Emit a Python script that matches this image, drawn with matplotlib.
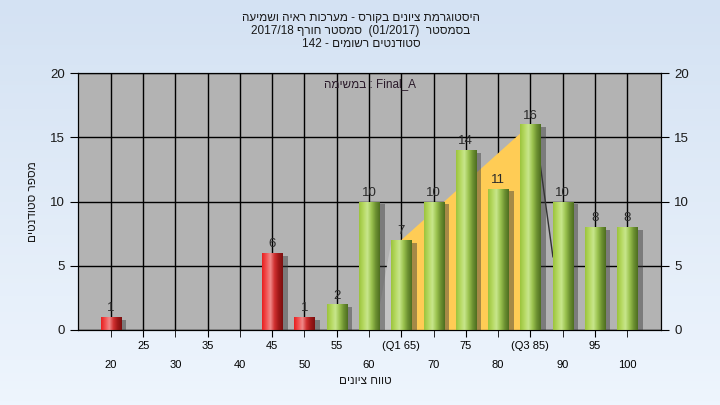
import re
import numpy as np
import matplotlib
matplotlib.use("Agg")
import matplotlib.pyplot as plt
import matplotlib.patheffects as pe
from matplotlib.colors import LinearSegmentedColormap

# grade bins and student counts
grades = [20, 25, 30, 35, 40, 45, 50, 55, 60, 65, 70, 75, 80, 85, 90, 95, 100]
counts = [1, 0, 0, 0, 0, 6, 1, 2, 10, 7, 10, 14, 11, 16, 10, 8, 8]
tick_labels = ["20", "25", "30", "35", "40", "45", "50", "55", "60", "(Q1 65)",
               "70", "75", "80", "(Q3 85)", "90", "95", "100"]
pass_grade = 55
q1_grade, q3_grade = 65, 85

title_lines = ["היסטוגרמת ציונים בקורס - מערכות ראיה ושמיעה",
               "בסמסטר  (01/2017)  סמסטר חורף 2017/18",
               "סטודנטים רשומים - 142"]
legend_text = "Final_A : במשימה"
xlabel = "טווח ציונים"
ylabel = "מספר סטודנטים"


def rtl(s):
    # crude visual ordering for Hebrew: reverse, then put LTR runs back
    r = s[::-1]
    return re.sub(r"[0-9A-Za-z_/().]+", lambda m: m.group(0)[::-1], r)


plt.rcParams['font.family'] = ['Liberation Sans', 'DejaVu Sans']

fig = plt.figure(figsize=(7.2, 4.05), dpi=100)

# background gradient
bg = fig.add_axes([0, 0, 1, 1], zorder=-10)
bg_cmap = LinearSegmentedColormap.from_list("bg", ["#D4E2F3", "#EEF5FD"])
bg.imshow(np.linspace(0, 1, 100).reshape(-1, 1), cmap=bg_cmap, aspect='auto',
          extent=(0, 1, 0, 1))
bg.axis('off')

ax = fig.add_axes([78 / 720, 1 - 330 / 405, (661 - 78) / 720, (330 - 73) / 405])
ax.set_facecolor("#B3B3B3")

x = np.arange(len(grades))
i_q1 = grades.index(q1_grade)
i_q3 = grades.index(q3_grade)

# interquartile area and decorations
ax.fill([i_q1, i_q1, i_q3, i_q3], [0, counts[i_q1], counts[i_q3], 0],
        color="#FFCC55", zorder=1.5, lw=0)
ax.fill([i_q1 - 0.8, i_q1 - 0.3, i_q1, i_q1], [0, counts[i_q1], counts[i_q1], 0],
        color="#C4C4C4", zorder=1.4, lw=0)
ax.plot([i_q3 + 0.3, i_q3 + 0.7], [13, 5.7], color="#333333", lw=1, zorder=1.6)

red_cmap = LinearSegmentedColormap.from_list(
    "r", ["#E82020", "#F25050", "#F08A8A", "#D03030", "#A01818", "#7A1010"])
green_cmap = LinearSegmentedColormap.from_list(
    "g", ["#9CC43C", "#B5D860", "#C8E68C", "#9CC450", "#6E9232", "#4E6E20"])

width = 0.62
shadow = [pe.SimplePatchShadow(offset=(4, -2), shadow_rgbFace="#383838", alpha=0.45),
          pe.Normal()]
bars = ax.bar(x, counts, width=width, color="#888888", zorder=3, path_effects=shadow)
grad = np.linspace(0, 1, 64).reshape(1, -1)
for xi, c, g, b in zip(x, counts, grades, bars):
    if c == 0:
        continue
    cm = red_cmap if g < pass_grade else green_cmap
    im = ax.imshow(grad, cmap=cm, aspect='auto', zorder=3.1,
                   extent=(xi - width / 2, xi + width / 2, 0, c))
    im.set_clip_path(b)
    ax.annotate(str(c), (xi, c), xytext=(0, 2), textcoords='offset points',
                ha='center', va='bottom', fontsize=9.5, color="#2A2A2A", zorder=4)

ax.set_xlim(-1.02, 17.05)
ax.set_ylim(0, 20)
ax.set_yticks([0, 5, 10, 15, 20])
ax.grid(True, color="black", lw=1, zorder=1)
ax.set_axisbelow(True)

odd = x[1::2]
even = x[0::2]
ax.set_xticks(odd)
ax.set_xticklabels([tick_labels[i] for i in odd])
ax.set_xticks(even, minor=True)
ax.set_xticklabels([tick_labels[i] for i in even], minor=True)
ax.tick_params(axis='x', which='major', length=5, pad=3, labelsize=8, color='black')
ax.tick_params(axis='x', which='minor', length=5, pad=16.5, labelsize=8, color='black')
ax.xaxis.grid(True, which='minor', color="black", lw=1)
ax.tick_params(axis='y', length=6, labelsize=9.5, labelcolor="#1A1A1A")

ax2 = ax.twinx()
ax2.set_ylim(0, 20)
ax2.set_yticks([0, 5, 10, 15, 20])
ax2.tick_params(axis='y', length=6, labelsize=9.5, labelcolor="#1A1A1A")
for a in (ax, ax2):
    for s in a.spines.values():
        s.set_color("black")

ax.text(0.5, 0.955, rtl(legend_text), transform=ax.transAxes, ha='center',
        va='center', fontsize=8.5, color="#2A1A2A", zorder=5)

for txt, yy in zip(title_lines, [18, 31, 44]):
    fig.text(361 / 720, 1 - yy / 405, rtl(txt), ha='center', va='center',
             fontsize=8.5, color="#1A1A1A")
fig.text(365 / 720, 1 - 381 / 405, rtl(xlabel), ha='center', va='center',
         fontsize=8.5, color="#1A1A1A")
fig.text(33 / 720, 1 - 202 / 405, rtl(ylabel), ha='center', va='center',
         rotation=90, fontsize=8.5, color="#1A1A1A")

fig.savefig("out.png", dpi=100)
